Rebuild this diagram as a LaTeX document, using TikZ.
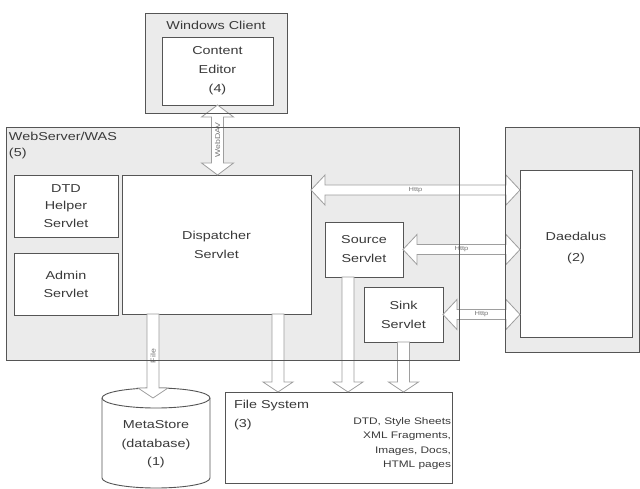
\documentclass[tikz,border=0pt]{standalone}
\usepackage{fontspec}
\setmainfont{Liberation Sans}[FakeStretch=1.25]
\usetikzlibrary{calc}

\definecolor{panel}{HTML}{EBEBEB}
\definecolor{edge}{HTML}{555555}
\definecolor{arrowedge}{HTML}{9E9E9E}
\definecolor{ink}{HTML}{3A3A3A}

\tikzset{
  panelfill/.style={fill=panel, draw=none},
  paneledge/.style={draw=edge, line width=0.9pt},
  box/.style={fill=white, draw=edge, line width=0.9pt},
  boxtext/.style={font=\fontsize{11.5}{19}\selectfont, align=center, text=ink},
  tinylabel/.style={font=\fontsize{6}{7}\selectfont, text=ink!70},
  blockarrow/.style={fill=white, draw=arrowedge, line width=0.8pt, line join=miter},
}

% horizontal double-headed block arrow between two points
\newcommand{\blockhdouble}[2]{%
  \draw[blockarrow] let \p1=(#1), \p2=(#2) in
    (\x1,\y1) -- (\x1+14pt,\y1+15pt) -- (\x1+14pt,\y1+5pt) --
    (\x2-14pt,\y1+5pt) -- (\x2-14pt,\y1+15pt) -- (\x2,\y1) --
    (\x2-14pt,\y1-15pt) -- (\x2-14pt,\y1-5pt) -- (\x1+14pt,\y1-5pt) --
    (\x1+14pt,\y1-15pt) -- cycle;}

% vertical double-headed block arrow, #1 above #2
\newcommand{\blockvdouble}[2]{%
  \draw[blockarrow] let \p1=(#1), \p2=(#2) in
    (\x1,\y1) -- (\x1+16pt,\y1-12pt) -- (\x1+6pt,\y1-12pt) --
    (\x1+6pt,\y2+12pt) -- (\x1+16pt,\y2+12pt) -- (\x1,\y2) --
    (\x1-16pt,\y2+12pt) -- (\x1-6pt,\y2+12pt) -- (\x1-6pt,\y1-12pt) --
    (\x1-16pt,\y1-12pt) -- cycle;}

% downward single-headed block arrow from #1 to tip #2
\newcommand{\blockdown}[2]{%
  \draw[blockarrow] let \p1=(#1), \p2=(#2) in
    (\x1-6pt,\y1) -- (\x1-6pt,\y2+10pt) -- (\x1-15pt,\y2+10pt) --
    (\x1,\y2) -- (\x1+15pt,\y2+10pt) -- (\x1+6pt,\y2+10pt) --
    (\x1+6pt,\y1) -- cycle;}

\begin{document}
\begin{tikzpicture}[x=1pt, y=-1pt,
  every node/.style={inner sep=0pt, outer sep=0pt}]

\useasboundingbox[fill=white] (0,0) rectangle (640,489);

% grey host panels
\node[panelfill, minimum width=142pt, minimum height=100pt] (client) at (216,63) {};
\node[panelfill, minimum width=453pt, minimum height=233pt] (was) at (232.5,243.5) {};
\node[panelfill, minimum width=134pt, minimum height=225pt] (daedpanel) at (572,239.5) {};

% panel titles
\node[boxtext] (clienttitle) at (216,25) {Windows Client};
\node[boxtext, font=\fontsize{11.5}{16}\selectfont, align=left, anchor=north west]
  (wastitle) at (9,132) {WebServer/WAS\\(5)};

% components
\node[box, boxtext, minimum width=111pt, minimum height=68pt] (editor) at (217.5,71) {Content\\Editor\\(4)};
\node[box, boxtext, font=\fontsize{11.5}{17.5}\selectfont, minimum width=104pt, minimum height=62pt] (dtd) at (66,206) {DTD\\Helper\\Servlet};
\node[box, boxtext, font=\fontsize{11.5}{18}\selectfont, minimum width=104pt, minimum height=62pt] (admin) at (66,284) {Admin\\Servlet};
\node[box, boxtext, minimum width=189pt, minimum height=139pt] (disp) at (216.5,244.5) {Dispatcher\\Servlet};
\node[box, boxtext, minimum width=78pt, minimum height=55pt] (src) at (364,249.5) {Source\\Servlet};
\node[box, boxtext, minimum width=79pt, minimum height=55pt] (sink) at (403.5,314.5) {Sink\\Servlet};
\node[box, minimum width=112pt, minimum height=167pt] (daed) at (576,253.5) {};
\node[boxtext, font=\fontsize{11.5}{21}\selectfont] (daedtext) at (576,248.5) {Daedalus\\(2)};

% file system
\node[box, minimum width=227pt, minimum height=91pt] (fs) at (338.5,437.5) {};
\node[boxtext, align=left, anchor=north west] (fstitle) at (234,400.5) {File System\\(3)};
\node[boxtext, font=\fontsize{9.5}{14.5}\selectfont, align=right, anchor=north east]
  (fscontent) at (451,417.5) {DTD, Style Sheets\\XML Fragments,\\Images, Docs,\\HTML pages};

% metastore cylinder
\draw[box] (102,398) -- (102,478)
  arc[start angle=180, end angle=360, x radius=54pt, y radius=10pt] -- (210,398)
  arc[start angle=0, end angle=180, x radius=54pt, y radius=10pt] -- cycle;
\draw[edge, line width=0.9pt] (102,398)
  arc[start angle=180, end angle=360, x radius=54pt, y radius=10pt];
\coordinate (mstop) at (156,398);
\node[boxtext, font=\fontsize{11.5}{18.5}\selectfont] (mstext) at (156,444.5) {MetaStore\\(database)\\(1)};

% connector end points
\coordinate (h1a) at ($(disp.north east)+(0,15)$);
\coordinate (h1b) at (h1a -| daed.west);
\coordinate (h2b) at (src.east -| daed.west);
\coordinate (h3b) at (sink.east -| daed.west);
\coordinate (wdb) at (editor.south |- disp.north);
\coordinate (fa) at ($(disp.south west)+(31,0)$);
\coordinate (d1) at ($(disp.south west)+(156,0)$);
\coordinate (d2) at ($(src.south west)+(23,0)$);

% block arrows
\blockhdouble{h1a}{h1b}
\blockhdouble{src.east}{h2b}
\blockhdouble{sink.east}{h3b}
\blockvdouble{editor.south}{wdb}
\blockdown{fa}{fa |- mstop}
\blockdown{d1}{d1 |- fs.north}
\blockdown{d2}{d2 |- fs.north}
\blockdown{sink.south}{sink.south |- fs.north}

% arrow labels
\node[tinylabel] at ($(h1a)!0.5!(h1b)$) {Http};
\node[tinylabel] at ($(src.east)!0.5!(h2b)$) {Http};
\node[tinylabel] at ($(sink.east)!0.5!(h3b)$) {Http};
\node[tinylabel, font=\fontsize{7}{8}\selectfont, rotate=90] at ($(editor.south)!0.5!(wdb)$) {WebDAV};
\node[tinylabel, font=\fontsize{7}{8}\selectfont, rotate=90] at ($(fa)!0.5!(fa |- mstop)$) {File};

% panel outlines on top of the arrows
\draw[paneledge] (client.north west) rectangle (client.south east);
\draw[paneledge] (was.north west) rectangle (was.south east);
\draw[paneledge] (daedpanel.north west) rectangle (daedpanel.south east);

\end{tikzpicture}
\end{document}
